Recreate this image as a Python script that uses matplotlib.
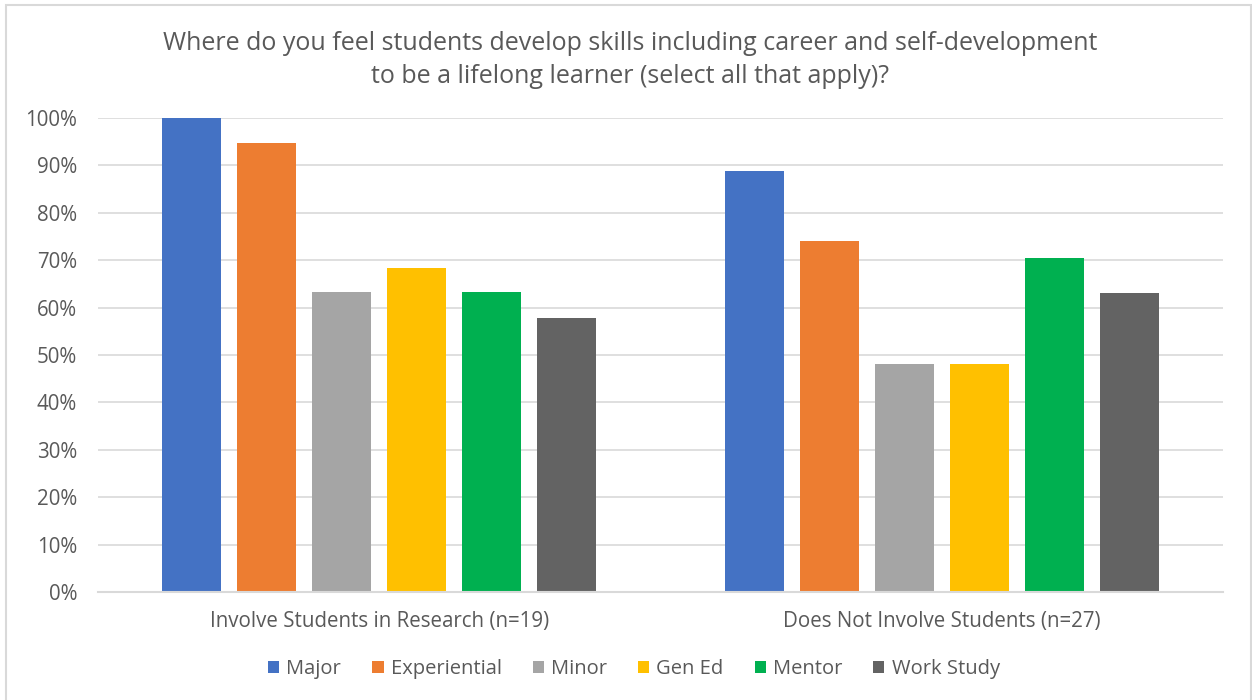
import matplotlib
matplotlib.use("Agg")
import matplotlib.pyplot as plt
from matplotlib.patches import Rectangle, Patch
from matplotlib.ticker import PercentFormatter
import numpy as np

groups = ["Involve Students in Research (n=19)", "Does Not Involve Students (n=27)"]
series = ["Major", "Experiential", "Minor", "Gen Ed", "Mentor", "Work Study"]
major = [100.0, 88.9]
experiential = [94.7, 74.1]
minor = [63.2, 48.1]
gen_ed = [68.4, 48.1]
mentor = [63.2, 70.4]
work_study = [57.9, 63.0]
values = [major, experiential, minor, gen_ed, mentor, work_study]
colors = ["#4472C4", "#ED7D31", "#A5A5A5", "#FFC000", "#00B050", "#636363"]

text_color = "#595959"
grid_color = "#D9D9D9"
plt.rcParams['font.family'] = ['Open Sans', 'DejaVu Sans']

W, H = 1252, 700
fig = plt.figure(figsize=(W / 100, H / 100), dpi=100)

# chart frame
fig.patches.append(Rectangle((6 / W, -0.01), (1251 - 6) / W, (700 - 5) / H + 0.01,
                             transform=fig.transFigure, fill=False,
                             edgecolor=grid_color, linewidth=1.5))

ax = fig.add_axes([98 / W, (H - 592) / H, (1223 - 98) / W, (592 - 118) / H])
x = np.arange(len(groups))
n = len(series)
step = 0.1333
width = 0.105
for i, (name, vals, c) in enumerate(zip(series, values, colors)):
    ax.bar(x + (i - (n - 1) / 2) * step, vals, width=width, color=c, label=name, zorder=3)

ax.set_xlim(-0.5, 1.5)
ax.set_ylim(0, 100)
ax.set_yticks(np.arange(0, 101, 10))
ax.yaxis.set_major_formatter(PercentFormatter(decimals=0))
ax.grid(axis='y', color=grid_color, linewidth=1.2, zorder=0)
for s in ["top", "right", "left"]:
    ax.spines[s].set_visible(False)
ax.spines["bottom"].set_color(grid_color)
ax.spines["bottom"].set_linewidth(1.5)
ax.spines["bottom"].set_zorder(4)
ax.tick_params(axis='both', length=0, labelsize=14.8, colors=text_color)
ax.tick_params(axis='y', pad=15)
ax.set_xticks(x)
ax.set_xticklabels(groups)
ax.tick_params(axis='x', pad=14)

fig.text(630 / W, 1 - 60 / H,
         "Where do you feel students develop skills including career and self-development\nto be a lifelong learner (select all that apply)?",
         ha='center', va='center', fontsize=18, color=text_color, linespacing=1.42)

handles = [Patch(facecolor=c, label=s) for s, c in zip(series, colors)]
fig.legend(handles=handles, loc='center', bbox_to_anchor=(634 / W, 1 - 669 / H),
           ncol=6, frameon=False, fontsize=14.5, labelcolor=text_color,
           handlelength=0.55, handleheight=0.55, handletextpad=0.35, columnspacing=1.55)

fig.savefig("out.png", dpi=100)
